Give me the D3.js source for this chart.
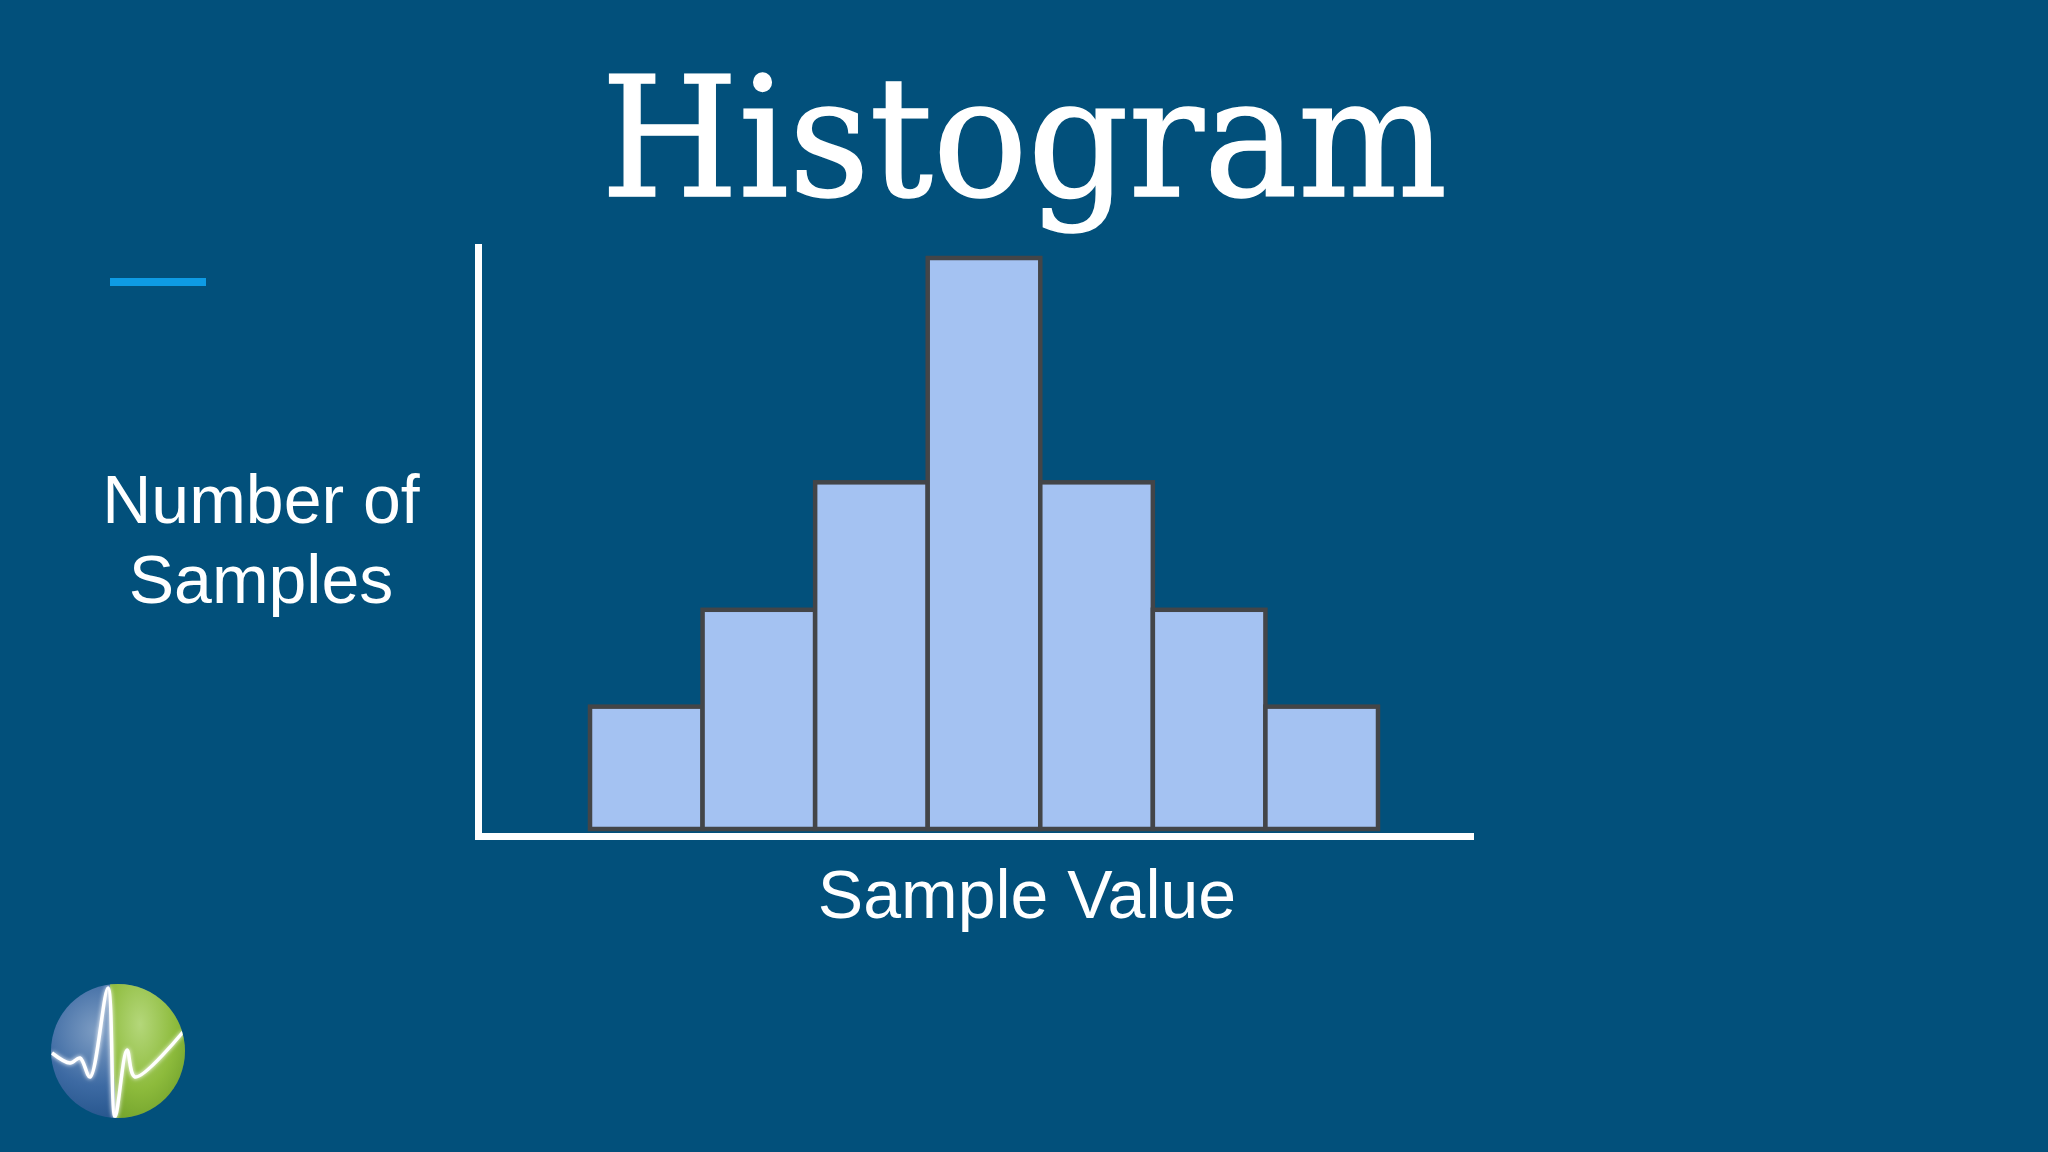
<!DOCTYPE html>
<html>
<head>
<meta charset="utf-8">
<script src="https://cdn.jsdelivr.net/npm/d3@7"></script>
<style>
  html, body { margin: 0; padding: 0; background: #02507b; }
  svg { display: block; }
</style>
</head>
<body>
<svg id="chart" width="2048" height="1152"></svg>
<script>
// ---- data ----
const bins = ["b1", "b2", "b3", "b4", "b5", "b6", "b7"];
const counts = [12, 21.5, 34, 56, 34, 21.5, 12];
const titleText = "Histogram";
const yLabelLines = ["Number of", "Samples"];
const xLabelText = "Sample Value";

// ---- layout ----
const W = 2048, H = 1152;
const svg = d3.select("#chart");
svg.append("rect").attr("width", W).attr("height", H).attr("fill", "#02507b");

const x = d3.scaleBand().domain(bins).range([590, 1378]).paddingInner(0).paddingOuter(0);
const y = d3.scaleLinear().domain([0, 56]).range([829, 258]);

// bars
svg.append("g").selectAll("rect").data(counts).join("rect")
  .attr("x", (d, i) => x(bins[i]))
  .attr("y", d => y(d))
  .attr("width", x.bandwidth())
  .attr("height", d => y(0) - y(d))
  .attr("fill", "#a4c2f2")
  .attr("stroke", "#434548")
  .attr("stroke-width", 4.5);

// axes (plain white lines, no ticks)
const yAxisScale = d3.scaleLinear().domain([0, 1]).range([836, 243]);
const xAxisScale = d3.scaleLinear().domain([0, 1]).range([474, 1473]);
const gy = svg.append("g").attr("transform", "translate(478,0)")
  .call(d3.axisLeft(yAxisScale).tickValues([]).tickSizeOuter(0));
const gx = svg.append("g").attr("transform", "translate(0,836)")
  .call(d3.axisBottom(xAxisScale).tickValues([]).tickSizeOuter(0));
[gy, gx].forEach(g => g.select(".domain")
  .attr("stroke", "#ffffff").attr("stroke-width", 7)
  .attr("shape-rendering", "crispEdges"));

// title
svg.append("text")
  .attr("x", 1024).attr("y", 196)
  .attr("text-anchor", "middle")
  .attr("font-family", "'DejaVu Serif Condensed', 'DejaVu Serif', serif")
  .attr("font-stretch", "condensed")
  .attr("font-size", 167)
  .attr("fill", "#ffffff")
  .attr("stroke", "#ffffff")
  .attr("stroke-width", 1.5)
  .attr("textLength", 846)
  .attr("lengthAdjust", "spacingAndGlyphs")
  .text(titleText);

// accent line
svg.append("line")
  .attr("x1", 110).attr("x2", 206).attr("y1", 282).attr("y2", 282)
  .attr("stroke", "#0e9be4").attr("stroke-width", 8);

// y label
const yl = svg.append("text")
  .attr("text-anchor", "middle")
  .attr("font-family", "'Liberation Sans', Arial, sans-serif")
  .attr("font-size", 68)
  .attr("fill", "#ffffff");
yLabelLines.forEach((t, i) => {
  yl.append("tspan").attr("x", 261).attr("y", 523 + i * 80).text(t);
});

// x label
svg.append("text")
  .attr("x", 1027).attr("y", 918)
  .attr("text-anchor", "middle")
  .attr("font-family", "'Liberation Sans', Arial, sans-serif")
  .attr("font-size", 68)
  .attr("fill", "#ffffff")
  .text(xLabelText);

// logo (decorative)
const cx = 118, cy = 1051, r = 67;
const defs = svg.append("defs");
defs.append("clipPath").attr("id", "logoClip")
  .append("circle").attr("cx", cx).attr("cy", cy).attr("r", r);
const gBlue = defs.append("radialGradient").attr("id", "gBlue")
  .attr("cx", "0.35").attr("cy", "0.35").attr("r", "0.75");
gBlue.append("stop").attr("offset", "0%").attr("stop-color", "#7f9ec4");
gBlue.append("stop").attr("offset", "55%").attr("stop-color", "#3d6aa3");
gBlue.append("stop").attr("offset", "100%").attr("stop-color", "#1f4f86");
const gGreen = defs.append("radialGradient").attr("id", "gGreen")
  .attr("cx", "0.4").attr("cy", "0.3").attr("r", "0.8");
gGreen.append("stop").attr("offset", "0%").attr("stop-color", "#b4d77a");
gGreen.append("stop").attr("offset", "60%").attr("stop-color", "#8dbb3c");
gGreen.append("stop").attr("offset", "100%").attr("stop-color", "#6f9f2a");
const filt = defs.append("filter").attr("id", "glow").attr("x", "-20%").attr("y", "-20%").attr("width", "140%").attr("height", "140%");
filt.append("feGaussianBlur").attr("stdDeviation", 2).attr("result", "b");
const fm = filt.append("feMerge");
fm.append("feMergeNode").attr("in", "b");
fm.append("feMergeNode").attr("in", "SourceGraphic");

const logo = svg.append("g").attr("clip-path", "url(#logoClip)");
logo.append("rect").attr("x", cx - r).attr("y", cy - r).attr("width", 2 * r).attr("height", 2 * r).attr("fill", "url(#gBlue)");
logo.append("path")
  .attr("d", `M${cx - 8},${cy - r} L${cx + r},${cy - r} L${cx + r},${cy + r} L${cx - 2},${cy + r} Z`)
  .attr("fill", "url(#gGreen)");
const beat = [
  [-66, 2], [-48, 12], [-38, 7], [-28, 26], [-10, -63], [-3, 66],
  [9, -1], [17, 26], [65, -19]
];
logo.append("path")
  .attr("d", d3.line().curve(d3.curveCatmullRom.alpha(0.5))(beat.map(p => [cx + p[0], cy + p[1]])))
  .attr("fill", "none").attr("stroke", "#ffffff").attr("stroke-width", 3.5)
  .attr("filter", "url(#glow)");
</script>
</body>
</html>
